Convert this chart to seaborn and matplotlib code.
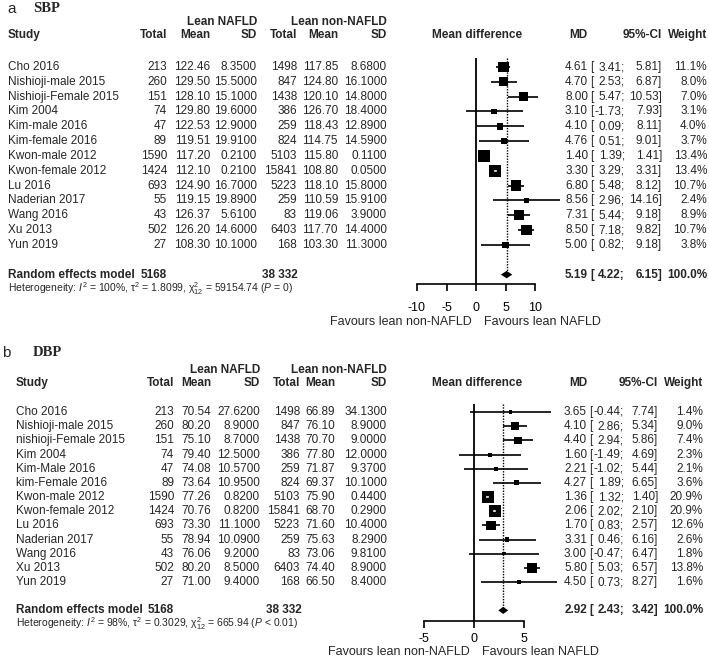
# -*- coding: UTF-8 -*-
# forest plots: SBP / DBP, lean NAFLD vs lean non-NAFLD
import matplotlib
matplotlib.use('Agg')
import matplotlib.pyplot as plt
import matplotlib.transforms as mtransforms
import numpy as np
import pandas as pd
import seaborn as sns

# ---------------- data: panel a (SBP) ----------------
names_a = ["Cho 2016", "Nishioji-male 2015", "Nishioji-Female 2015", "Kim 2004",
           "Kim-male 2016", "Kim-female 2016", "Kwon-male 2012", "Kwon-female 2012",
           "Lu 2016", "Naderian 2017", "Wang 2016", "Xu 2013", "Yun 2019"]
n1_a = [213, 260, 151, 74, 47, 89, 1590, 1424, 693, 55, 43, 502, 27]
mean1_a = [122.46, 129.50, 128.10, 129.80, 122.53, 119.51, 117.20, 112.10, 124.90, 119.15, 126.37, 126.20, 108.30]
sd1_a = [8.35, 15.5, 15.1, 19.6, 12.9, 19.91, 0.21, 0.21, 16.7, 19.89, 5.61, 14.6, 10.1]
n2_a = [1498, 847, 1438, 386, 259, 824, 5103, 15841, 5223, 259, 83, 6403, 168]
mean2_a = [117.85, 124.80, 120.10, 126.70, 118.43, 114.75, 115.80, 108.80, 118.10, 110.59, 119.06, 117.70, 103.30]
sd2_a = [8.68, 16.1, 14.8, 18.4, 12.89, 14.59, 0.11, 0.05, 15.8, 15.91, 3.9, 14.4, 11.3]
md_a = [4.61, 4.70, 8.00, 3.10, 4.10, 4.76, 1.40, 3.30, 6.80, 8.56, 7.31, 8.50, 5.00]
lo_a = [3.41, 2.53, 5.47, -1.73, 0.09, 0.51, 1.39, 3.29, 5.48, 2.96, 5.44, 7.18, 0.82]
hi_a = [5.81, 6.87, 10.53, 7.93, 8.11, 9.01, 1.41, 3.31, 8.12, 14.16, 9.18, 9.82, 9.18]
w_a = [11.1, 8.0, 7.0, 3.1, 4.0, 3.7, 13.4, 13.4, 10.7, 2.4, 8.9, 10.7, 3.8]
summary_a = [5.19, 4.22, 6.15]
totals_a = ["5168", "38 332"]
het_a = (r"Heterogeneity: $I^2$ = 100%, $\mathrm{\tau}^2$ = 1.8099, "
         r"$\mathrm{\chi}^2_{12}$ = 59154.74 ($P$ = 0)")
ticks_a = [-10, -5, 0, 5, 10]

# ---------------- data: panel b (DBP) ----------------
names_b = ["Cho 2016", "Nishioji-male 2015", "nishioji-Female 2015", "Kim 2004",
           "Kim-Male 2016", "kim-Female 2016", "Kwon-male 2012", "Kwon-female 2012",
           "Lu 2016", "Naderian 2017", "Wang 2016", "Xu 2013", "Yun 2019"]
n1_b = [213, 260, 151, 74, 47, 89, 1590, 1424, 693, 55, 43, 502, 27]
mean1_b = [70.54, 80.20, 75.10, 79.40, 74.08, 73.64, 77.26, 70.76, 73.30, 78.94, 76.06, 80.20, 71.00]
sd1_b = [27.62, 8.9, 8.7, 12.5, 10.57, 10.95, 0.82, 0.82, 11.1, 10.09, 9.2, 8.5, 9.4]
n2_b = [1498, 847, 1438, 386, 259, 824, 5103, 15841, 5223, 259, 83, 6403, 168]
mean2_b = [66.89, 76.10, 70.70, 77.80, 71.87, 69.37, 75.90, 68.70, 71.60, 75.63, 73.06, 74.40, 66.50]
sd2_b = [34.13, 8.9, 9.0, 12.0, 9.37, 10.1, 0.44, 0.29, 10.4, 8.29, 9.81, 8.9, 8.4]
md_b = [3.65, 4.10, 4.40, 1.60, 2.21, 4.27, 1.36, 2.06, 1.70, 3.31, 3.00, 5.80, 4.50]
lo_b = [-0.44, 2.86, 2.94, -1.49, -1.02, 1.89, 1.32, 2.02, 0.83, 0.46, -0.47, 5.03, 0.73]
hi_b = [7.74, 5.34, 5.86, 4.69, 5.44, 6.65, 1.40, 2.10, 2.57, 6.16, 6.47, 6.57, 8.27]
w_b = [1.4, 9.0, 7.4, 2.3, 2.1, 3.6, 20.9, 20.9, 12.6, 2.6, 1.8, 13.8, 1.6]
summary_b = [2.92, 2.43, 3.42]
totals_b = ["5168", "38 332"]
het_b = (r"Heterogeneity: $I^2$ = 98%, $\mathrm{\tau}^2$ = 0.3029, "
         r"$\mathrm{\chi}^2_{12}$ = 665.94 ($P$ < 0.01)")
ticks_b = [-5, 0, 5]

W, H = 709, 660

sns.set_style('white')
plt.rcParams['font.family'] = ['Liberation Sans', 'DejaVu Sans']
plt.rcParams['mathtext.fontset'] = 'custom'
plt.rcParams['mathtext.rm'] = 'Liberation Sans'
plt.rcParams['mathtext.it'] = 'Liberation Sans:italic'
plt.rcParams['mathtext.bf'] = 'Liberation Sans:bold'

fig = plt.figure(figsize=(W / 100, H / 100), dpi=100)

FS = 8.5


def ftxt(x, y, s, **kw):
    kw.setdefault('fontsize', FS)
    kw.setdefault('va', 'center')
    fig.text(x / W, 1 - y / H, s, **kw)


def panel(letter, title, names, n1, m1, s1, n2, m2, s2, md, lo, hi, w, summ, tots, het, ticks, L):
    # layout in pixels
    x0, sc = L['x0'], L['scale']
    left, right = 395, 625
    ax = fig.add_axes([left / W, 1 - L['bottom'] / H, (right - left) / W, (L['bottom'] - L['top']) / H])
    ax.set_xlim((left - x0) / sc, (right - x0) / sc)
    ax.set_ylim((L['bottom'] - L['row0']) / L['step'], (L['top'] - L['row0']) / L['step'])
    ax.patch.set_alpha(0)
    for s in ['top', 'left', 'right']:
        ax.spines[s].set_visible(False)
    ax.spines['bottom'].set_bounds(ticks[0], ticks[-1])
    ax.spines['bottom'].set_linewidth(1.2)
    ax.spines['bottom'].set_color('black')
    ax.set_xticks(ticks)
    ax.set_xticklabels([str(t) for t in ticks])
    ax.set_yticks([])
    ax.tick_params(axis='x', direction='out', length=5, width=1.2, pad=L['pad'],
                   labelsize=9, bottom=True, colors='black')

    rows = np.arange(len(names))
    df = pd.DataFrame({'md': md, 'row': rows, 'w': w, 'lo': lo, 'hi': hi})
    ybot = (L['bottom'] - L['row0']) / L['step']
    ytop = (L['vtop'] - L['row0']) / L['step']
    nsum = len(names) + 1

    ax.vlines(0, ytop, ybot, color='black', lw=1.3)
    ax.vlines(summ[0], ytop, nsum, color='black', lw=1.0, linestyles=(0, (1, 1)))
    ax.hlines(df['row'], df['lo'], df['hi'], color='black', lw=1.2)
    wmax = max(w)
    smax = (L['sqpx'] * 72 / 100) ** 2
    sns.scatterplot(data=df, x='md', y='row', size='w', sizes=(0, smax), size_norm=(0, wmax),
                    marker='s', color='black', linewidth=0, legend=False, ax=ax, zorder=3)
    # CI inside the square drawn in white
    for i in range(len(names)):
        half = L['sqpx'] * np.sqrt(w[i] / wmax) / 2 / sc
        if hi[i] - md[i] < half:
            ax.hlines(i, lo[i], hi[i], color='white', lw=1.2, zorder=4, capstyle='projecting')
    h = 0.25
    ax.fill([summ[1], summ[0], summ[2], summ[0]], [nsum, nsum - h, nsum, nsum + h],
            color='black', lw=0, zorder=3)
    ax.set_xlabel('')
    ax.set_ylabel('')

    # text rows
    tr = mtransforms.blended_transform_factory(fig.transFigure, ax.transData)

    def rtxt(x, r, s, **kw):
        kw.setdefault('fontsize', FS)
        kw.setdefault('va', 'center')
        ax.text(x / W, r, s, transform=tr, **kw)

    c = L['cols']
    for i in range(len(names)):
        rtxt(L['study_x'], i, names[i])
        rtxt(c[0], i, str(n1[i]), ha='right')
        rtxt(c[1], i, f"{m1[i]:.2f}", ha='right')
        rtxt(c[2], i, f"{s1[i]:.4f}", ha='right')
        rtxt(c[3], i, str(n2[i]), ha='right')
        rtxt(c[4], i, f"{m2[i]:.2f}", ha='right')
        rtxt(c[5], i, f"{s2[i]:.4f}", ha='right')
        rtxt(L['md_x'], i, f"{md[i]:.2f}", ha='right')
        rtxt(L['br_x'], i, "[", ha='left')
        rtxt(L['lo_x'], i, f"{lo[i]:.2f};", ha='right')
        rtxt(L['hi_x'], i, f"{hi[i]:.2f}]", ha='right')
        rtxt(L['w_x'], i, f"{w[i]:.1f}%", ha='right')

    rtxt(L['study_x'], nsum, "Random effects model", fontweight='bold')
    rtxt(c[0], nsum, tots[0], ha='right', fontweight='bold')
    rtxt(L['tot2_x'], nsum, tots[1], ha='right', fontweight='bold')
    rtxt(L['md_x'], nsum, f"{summ[0]:.2f}", ha='right', fontweight='bold')
    rtxt(L['br_x'], nsum, "[", ha='left', fontweight='bold')
    rtxt(L['lo_x'], nsum, f"{summ[1]:.2f};", ha='right', fontweight='bold')
    rtxt(L['hi_x'], nsum, f"{summ[2]:.2f}]", ha='right', fontweight='bold')
    rtxt(L['w_x'], nsum, "100.0%", ha='right', fontweight='bold')

    # headers
    ftxt(L['letter_x'], L['title_y'], letter, fontsize=11)
    ftxt(L['title_x'], L['title_y'], title, fontsize=10.5, fontweight='bold', family='Liberation Serif')
    ftxt(c[2], L['h1'], "Lean NAFLD", ha='right', fontweight='bold')
    ftxt(c[5], L['h1'], "Lean non-NAFLD", ha='right', fontweight='bold')
    ftxt(L['study_x'], L['h2'], "Study", fontweight='bold')
    for x, s in zip(c, ["Total", "Mean", "SD", "Total", "Mean", "SD"]):
        ftxt(x, L['h2'], s, ha='right', fontweight='bold')
    ftxt(477, L['h2'], "Mean difference", ha='center', fontweight='bold')
    ftxt(578, L['h2'], "MD", ha='center', fontweight='bold')
    ftxt(L['hi_x'], L['h2'], "95%-CI", ha='right', fontweight='bold')
    ftxt(L['w_x'], L['h2'], "Weight", ha='right', fontweight='bold')
    ftxt(L['study_x'], L['het_y'], het, fontsize=7.5)
    ftxt(x0 - 4, L['fav_y'], "Favours lean non-NAFLD", ha='right', fontsize=9)
    ftxt(x0 + 8, L['fav_y'], "Favours lean NAFLD", ha='left', fontsize=9)


lay_a = dict(top=50, bottom=284, vtop=58, row0=67, step=14.83, x0=476, scale=5.9, pad=8,
             sqpx=12.0, letter_x=7, title_x=33, title_y=9, h1=22, h2=35, study_x=8,
             cols=[167, 210, 257, 297, 338, 387], tot2_x=298, md_x=588, br_x=590, lo_x=625,
             hi_x=662, w_x=707, het_y=289, fav_y=322)
lay_b = dict(top=395, bottom=621, vtop=404, row0=412, step=14.17, x0=474, scale=10.0, pad=4,
             sqpx=12.0, letter_x=2, title_x=33, title_y=353, h1=370, h2=383, study_x=16,
             cols=[174, 211, 260, 300, 335, 387], tot2_x=302, md_x=587, br_x=589, lo_x=624,
             hi_x=658, w_x=703, het_y=624, fav_y=652)

panel("a", "SBP", names_a, n1_a, mean1_a, sd1_a, n2_a, mean2_a, sd2_a, md_a, lo_a, hi_a, w_a,
      summary_a, totals_a, het_a, ticks_a, lay_a)
panel("b", "DBP", names_b, n1_b, mean1_b, sd1_b, n2_b, mean2_b, sd2_b, md_b, lo_b, hi_b, w_b,
      summary_b, totals_b, het_b, ticks_b, lay_b)

fig.savefig('out.png', dpi=100)
